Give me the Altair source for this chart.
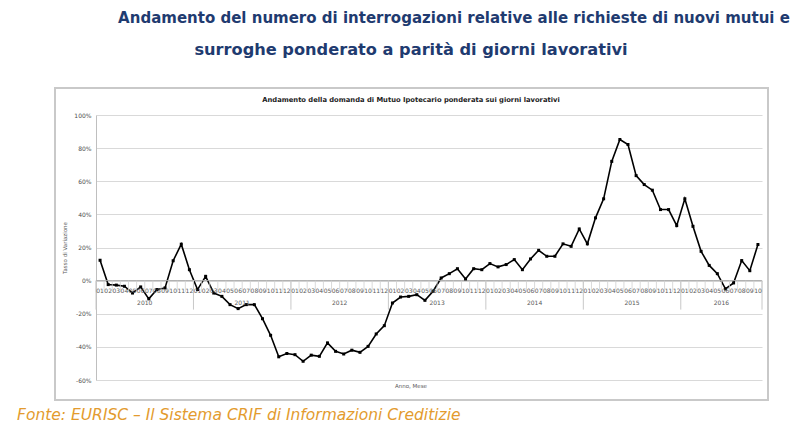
import altair as alt
import pandas as pd

# ---- data (percent change, monthly) ----
years = [2010, 2011, 2012, 2013, 2014, 2015, 2016]
months_per_year = [12, 12, 12, 12, 12, 12, 10]
v2010 = [12.3, -2.4, -2.7, -3.4, -7.5, -3.8, -11.0, -5.4, -4.4, 12.0, 22.0, 6.6]
v2011 = [-5.4, 2.6, -7.5, -9.5, -14.5, -16.9, -14.5, -14.5, -23.0, -33.0, -46.0, -44.0]
v2012 = [-44.7, -48.7, -45.0, -45.7, -37.6, -42.7, -44.3, -42.0, -43.3, -39.7, -32.2, -27.2]
v2013 = [-13.5, -9.9, -9.5, -8.5, -11.9, -6.4, 1.6, 4.2, 7.2, 1.0, 7.2, 6.6]
v2014 = [10.3, 8.3, 9.7, 12.7, 6.6, 13.1, 18.3, 14.7, 14.7, 22.2, 20.7, 31.2]
v2015 = [22.2, 37.9, 49.4, 72.0, 85.2, 82.2, 63.4, 58.0, 54.6, 42.9, 42.9, 33.2]
v2016 = [49.4, 32.8, 17.7, 9.2, 4.2, -5.0, -1.4, 12.1, 6.0, 21.8]
values = v2010 + v2011 + v2012 + v2013 + v2014 + v2015 + v2016
y_ticks = [-60, -40, -20, 0, 20, 40, 60, 80, 100]

title_line1 = "Andamento del numero di interrogazioni relative alle richieste di nuovi mutui e"
title_line2 = "surroghe ponderato a parità di giorni lavorativi"
inner_title = "Andamento della domanda di Mutuo Ipotecario ponderata sui giorni lavorativi"
y_title = "Tasso di Variazione"
x_title = "Anno, Mese"
source = "Fonte: EURISC \u2013 Il Sistema CRIF di Informazioni Creditizie"

rows = []
i = 0
for yr, n in zip(years, months_per_year):
    for m in range(1, n + 1):
        rows.append({"idx": i, "year": yr, "month": f"{m:02d}", "value": values[i], "zero": 0})
        i += 1
df = pd.DataFrame(rows)
N = len(df)

bounds = pd.DataFrame({"b": [k - 0.5 for k in range(N + 1)], "y0": 0, "y1": -7})
ystarts = [0]
for n in months_per_year:
    ystarts.append(ystarts[-1] + n)
seps = pd.DataFrame({"b": [s - 0.5 for s in ystarts], "y0": 0, "y1": -17.5})
year_lab = pd.DataFrame({
    "year": [str(y) for y in years],
    "c": [ystarts[k] + (months_per_year[k] - 1) / 2 for k in range(len(years))],
    "zero": 0,
})

W, H = 666, 265
xscale = alt.Scale(domain=[-0.5, N - 0.5], nice=False, zero=False)
yscale = alt.Scale(domain=[-60, 100], nice=False)
GREY = "#595959"
FONT = "DejaVu Sans"


def X(field):
    return alt.X(field, scale=xscale, axis=None)


def Y(field):
    return alt.Y(field, scale=yscale, axis=None)


line = alt.Chart(df).mark_line(color="black", strokeWidth=1.6).encode(
    x=X("idx:Q"),
    y=alt.Y(
        "value:Q", scale=yscale,
        axis=alt.Axis(
            values=y_ticks, tickCount=9, labelExpr="datum.value + '%'", grid=True,
            labelOverlap=False, gridColor="#D9D9D9", gridWidth=1, domainColor="#BFBFBF",
            ticks=False, labelFontSize=6, labelColor="#4D4D4D", labelFont=FONT, labelPadding=5,
            title=y_title, titleFontSize=5.5, titleFontWeight="normal", titleColor=GREY,
            titleFont=FONT, titleX=-29,
        ),
    ),
)
pts = alt.Chart(df).mark_square(size=9, color="black", opacity=1).encode(
    x=X("idx:Q"), y=Y("value:Q")
)

one = pd.DataFrame({"a": [0]})
zero_rule = alt.Chart(one).mark_rule(color="#A6A6A6", strokeWidth=1).encode(y=Y("a:Q"))
mticks = alt.Chart(bounds).mark_rule(color="#D0D0D0", strokeWidth=0.8).encode(
    x=X("b:Q"), y=Y("y0:Q"), y2="y1:Q"
)
yseps = alt.Chart(seps).mark_rule(color="#C8C8C8", strokeWidth=1).encode(
    x=X("b:Q"), y=Y("y0:Q"), y2="y1:Q"
)
mlabels = alt.Chart(df).mark_text(fontSize=6, color=GREY, font=FONT, dy=10).encode(
    x=X("idx:Q"), y=Y("zero:Q"), text="month:N"
)
ylabels = alt.Chart(year_lab).mark_text(fontSize=6, color=GREY, font=FONT, dy=22).encode(
    x=X("c:Q"), y=Y("zero:Q"), text="year:N"
)

box = alt.Chart(one).mark_rect(fillOpacity=0, stroke="#C9C9C9", strokeWidth=2).encode(
    x=alt.value(-41), x2=alt.value(672), y=alt.value(-27), y2=alt.value(285)
)


def label(txt, px, py, **kw):
    return alt.Chart(one).mark_text(**kw).encode(
        x=alt.value(px), y=alt.value(py), text=alt.value(txt)
    )


xtitle = label(x_title, 315, 271, fontSize=5.5, color=GREY, font=FONT)
itxt = label(inner_title, 315, -15, fontSize=6.75, fontWeight="bold", color="#222222", font=FONT)
h1 = label(title_line1, 358, -97, fontSize=15, fontWeight="bold", color="#1F3B70", font=FONT)
h2 = label(title_line2, 315, -65, fontSize=16.2, fontWeight="bold", color="#1F3B70", font=FONT)
foot = label(source, -79, 300, fontSize=15.5, fontStyle="italic", color="#E39B2E", font=FONT, align="left")

chart = alt.layer(
    line, box, zero_rule, mticks, yseps, pts, mlabels, ylabels, xtitle, itxt, h1, h2, foot
).resolve_axis(
    x="independent", y="independent"
).properties(
    width=W, height=H,
    autosize=alt.AutoSizeParams(type="none"),
    padding={"left": 96, "top": 115, "right": 38, "bottom": 56},
    background="white",
).configure_view(strokeWidth=0)

chart.save("out.html", embed_options={"renderer": "svg", "actions": False})
